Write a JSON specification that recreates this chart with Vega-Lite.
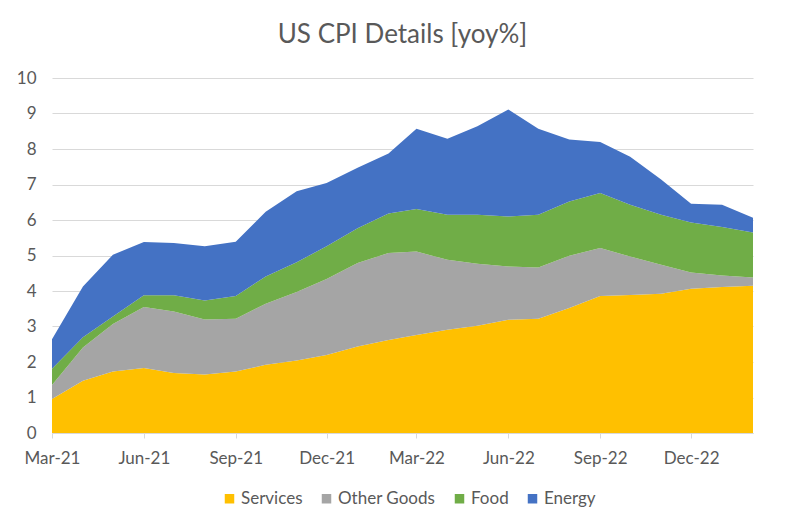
{
  "$schema": "https://vega.github.io/schema/vega-lite/v6.json",
  "width": 701,
  "height": 355,
  "autosize": {"type": "none"},
  "padding": {"left": 52, "top": 78, "right": 52, "bottom": 97},
  "background": "#ffffff",
  "title": {
    "text": "US CPI Details [yoy%]",
    "font": "Lato",
    "fontSize": 26,
    "fontWeight": "normal",
    "color": "#595959",
    "anchor": "middle",
    "offset": 21
  },
  "data": {
    "values": [
      {"month": "2021-03-01", "Services": 0.96, "Other Goods": 0.39, "Food": 0.46, "Energy": 0.83},
      {"month": "2021-04-01", "Services": 1.47, "Other Goods": 0.94, "Food": 0.29, "Energy": 1.43},
      {"month": "2021-05-01", "Services": 1.73, "Other Goods": 1.34, "Food": 0.21, "Energy": 1.74},
      {"month": "2021-06-01", "Services": 1.83, "Other Goods": 1.72, "Food": 0.33, "Energy": 1.50},
      {"month": "2021-07-01", "Services": 1.69, "Other Goods": 1.73, "Food": 0.46, "Energy": 1.47},
      {"month": "2021-08-01", "Services": 1.65, "Other Goods": 1.55, "Food": 0.53, "Energy": 1.53},
      {"month": "2021-09-01", "Services": 1.73, "Other Goods": 1.49, "Food": 0.64, "Energy": 1.53},
      {"month": "2021-10-01", "Services": 1.92, "Other Goods": 1.72, "Food": 0.77, "Energy": 1.82},
      {"month": "2021-11-01", "Services": 2.04, "Other Goods": 1.93, "Food": 0.84, "Energy": 2.00},
      {"month": "2021-12-01", "Services": 2.20, "Other Goods": 2.14, "Food": 0.92, "Energy": 1.78},
      {"month": "2022-01-01", "Services": 2.44, "Other Goods": 2.35, "Food": 0.98, "Energy": 1.70},
      {"month": "2022-02-01", "Services": 2.62, "Other Goods": 2.45, "Food": 1.11, "Energy": 1.69},
      {"month": "2022-03-01", "Services": 2.76, "Other Goods": 2.35, "Food": 1.20, "Energy": 2.26},
      {"month": "2022-04-01", "Services": 2.91, "Other Goods": 1.97, "Food": 1.27, "Energy": 2.14},
      {"month": "2022-05-01", "Services": 3.02, "Other Goods": 1.75, "Food": 1.38, "Energy": 2.49},
      {"month": "2022-06-01", "Services": 3.19, "Other Goods": 1.50, "Food": 1.41, "Energy": 3.01},
      {"month": "2022-07-01", "Services": 3.22, "Other Goods": 1.44, "Food": 1.49, "Energy": 2.42},
      {"month": "2022-08-01", "Services": 3.52, "Other Goods": 1.47, "Food": 1.53, "Energy": 1.75},
      {"month": "2022-09-01", "Services": 3.86, "Other Goods": 1.35, "Food": 1.55, "Energy": 1.44},
      {"month": "2022-10-01", "Services": 3.89, "Other Goods": 1.08, "Food": 1.46, "Energy": 1.35},
      {"month": "2022-11-01", "Services": 3.92, "Other Goods": 0.82, "Food": 1.41, "Energy": 0.99},
      {"month": "2022-12-01", "Services": 4.06, "Other Goods": 0.46, "Food": 1.41, "Energy": 0.53},
      {"month": "2023-01-01", "Services": 4.11, "Other Goods": 0.33, "Food": 1.36, "Energy": 0.63},
      {"month": "2023-02-01", "Services": 4.15, "Other Goods": 0.23, "Food": 1.27, "Energy": 0.41}
    ]
  },
  "transform": [
    {"fold": ["Services", "Other Goods", "Food", "Energy"], "as": ["component", "contribution"]},
    {"calculate": "indexof(['Services', 'Other Goods', 'Food', 'Energy'], datum.component)", "as": "stackRank"}
  ],
  "mark": {"type": "area", "interpolate": "linear"},
  "encoding": {
    "x": {
      "field": "month",
      "type": "temporal",
      "scale": {"type": "utc", "nice": false},
      "axis": {
        "title": null,
        "labelExpr": "utcFormat(datum.value, '%b-%y')",
        "values": [
          {"year": 2021, "month": 3, "date": 1, "utc": true},
          {"year": 2021, "month": 6, "date": 1, "utc": true},
          {"year": 2021, "month": 9, "date": 1, "utc": true},
          {"year": 2021, "month": 12, "date": 1, "utc": true},
          {"year": 2022, "month": 3, "date": 1, "utc": true},
          {"year": 2022, "month": 6, "date": 1, "utc": true},
          {"year": 2022, "month": 9, "date": 1, "utc": true},
          {"year": 2022, "month": 12, "date": 1, "utc": true}
        ],
        "grid": false,
        "domainColor": "#d9d9d9",
        "tickColor": "#d9d9d9",
        "tickSize": 5,
        "labelPadding": 12,
        "labelFlush": false,
        "labelOverlap": false
      }
    },
    "y": {
      "field": "contribution",
      "type": "quantitative",
      "stack": "zero",
      "scale": {"domain": [0, 10], "nice": false},
      "axis": {
        "title": null,
        "values": [0, 1, 2, 3, 4, 5, 6, 7, 8, 9, 10],
        "domain": false,
        "ticks": false,
        "gridColor": "#d9d9d9",
        "labelPadding": 16
      }
    },
    "color": {
      "field": "component",
      "type": "nominal",
      "sort": ["Services", "Other Goods", "Food", "Energy"],
      "scale": {
        "domain": ["Services", "Other Goods", "Food", "Energy"],
        "range": ["#FFC000", "#A5A5A5", "#70AD47", "#4472C4"]
      },
      "legend": {
        "title": null,
        "orient": "none",
        "direction": "horizontal",
        "legendX": 169,
        "legendY": 412,
        "symbolType": "square",
        "symbolSize": 90,
        "symbolStrokeWidth": 0,
        "labelFontSize": 17,
        "labelColor": "#595959",
        "labelFont": "Lato",
        "columnPadding": 15,
        "labelOffset": 3
      }
    },
    "order": {"field": "stackRank", "type": "quantitative"}
  },
  "config": {
    "view": {"stroke": null},
    "axis": {
      "labelFont": "Lato",
      "labelFontSize": 17,
      "labelColor": "#595959"
    }
  }
}
